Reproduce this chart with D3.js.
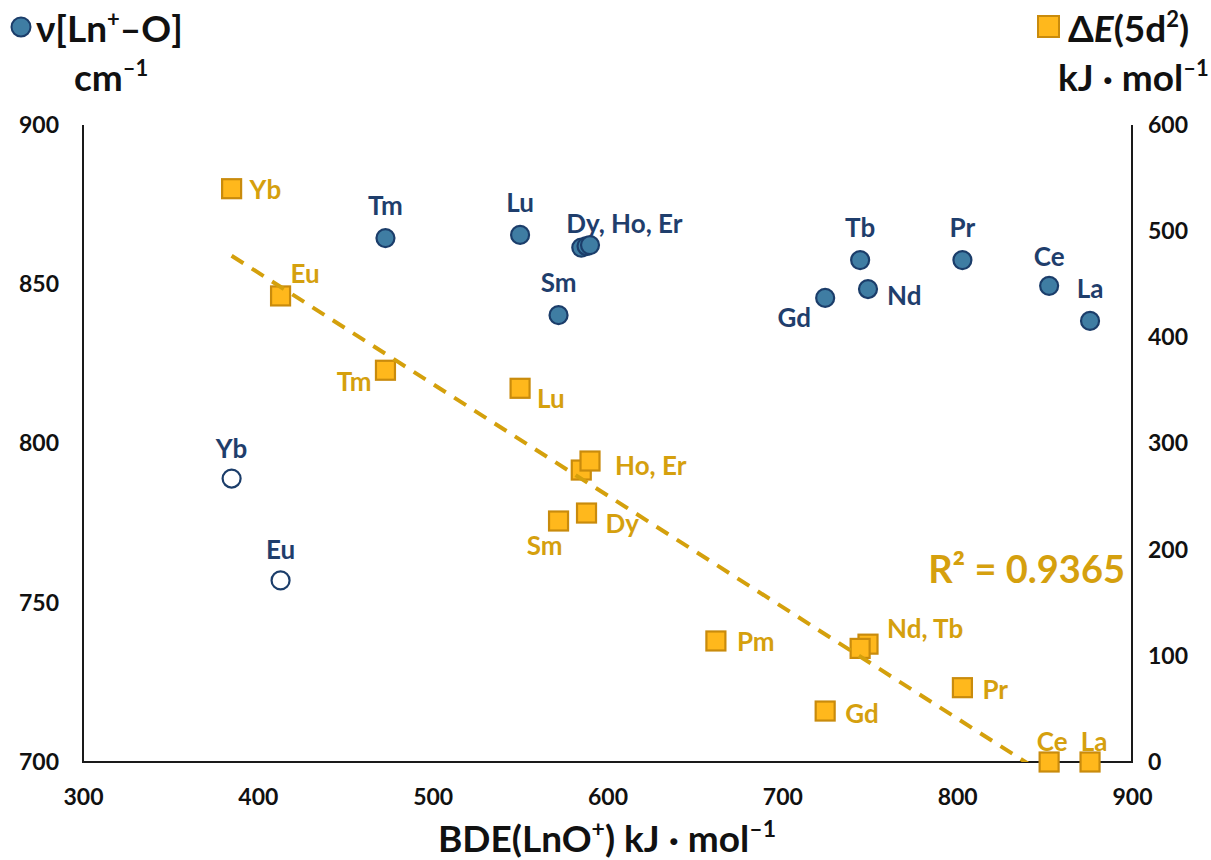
<!DOCTYPE html>
<html><head><meta charset="utf-8">
<script src="https://cdn.jsdelivr.net/npm/d3@7"></script>
<style>body{margin:0;background:#fff}text{font-family:Lato,"Open Sans",sans-serif;font-weight:700}</style>
</head><body><svg id="c" width="1211" height="860"></svg>
<script>
// ---- data ----
const xTicks = [300,400,500,600,700,800,900];
const yLeftTicks = [700,750,800,850,900];
const yRightTicks = [0,100,200,300,400,500,600];

// series 1: nu[Ln+-O] (cm-1), circles
const nuElements = ["Yb","Eu","Tm","Lu","Sm","Dy","Ho","Er","Gd","Tb","Nd","Pr","Ce","La"];
const nuBDE      = [385,413,473,550,572,585,588,590,724.5,744.5,749,803,852.6,876];
const nuValues   = [789,757,864.5,865.5,840.3,861.5,862,862.3,845.7,857.6,848.5,857.6,849.5,838.5];
const nuOpen     = [true,true,false,false,false,false,false,false,false,false,false,false,false,false];
const nuLabels   = ["Yb","Eu","Tm","Lu","Sm","Dy, Ho, Er","Gd","Tb","Nd","Pr","Ce","La"];
const nuLabelAt  = ["Yb","Eu","Tm","Lu","Sm","Dy","Gd","Tb","Nd","Pr","Ce","La"];

// series 2: dE(5d2) (kJ/mol), squares
const dEElements = ["Yb","Eu","Tm","Lu","Sm","Dy","Ho","Er","Pm","Gd","Nd","Tb","Pr","Ce","La"];
const dEBDE      = [385,413,473,550,572,588,585,590,662,724.5,749,744.5,803,852.6,876];
const dEValues   = [540,439,369,352,227,234.5,275,283.5,114,48,111,107,70,0,0];
const dELabels   = ["Yb","Eu","Tm","Lu","Sm","Dy","Ho, Er","Pm","Gd","Nd, Tb","Pr","Ce","La"];
const dELabelAt  = ["Yb","Eu","Tm","Lu","Sm","Dy","Er","Pm","Gd","Nd","Pr","Ce","La"];
const r2Text = "R² = 0.9365";

// ---- label placement (layout, not data) ----
const nuLabelOffsets = {Yb:[0,-30,"middle"],Eu:[0,-31,"middle"],Tm:[0,-32,"middle"],Lu:[0,-32,"middle"],
  Sm:[0,-32,"middle"],Dy:[-15,-24,"start"],Gd:[-31,20,"middle"],Tb:[0,-32,"middle"],Nd:[19,7,"start"],
  Pr:[0,-32,"middle"],Ce:[0,-29,"middle"],La:[0,-32,"middle"]};
const dELabelOffsets = {Yb:[18,1,"start"],Eu:[10,-22,"start"],Tm:[-14,12,"end"],Lu:[17,11,"start"],
  Sm:[-14,25,"middle"],Dy:[19,11,"start"],Er:[25,5,"start"],Pm:[21,1,"start"],Gd:[20,3,"start"],
  Nd:[19,-15,"start"],Pr:[20,2,"start"],Ce:[3,-20,"middle"],La:[4,-20,"middle"]};

const BLUE_FILL="#3F7DA3", BLUE_STROKE="#1B3D6A", BLUE_TEXT="#1F3E6C";
const GOLD_FILL="#FFB81C", GOLD_STROKE="#C98B0C", GOLD_TEXT="#D5A00E", GOLD_LINE="#D4A00C";

const svg = d3.select("#c");
const L=83, R=1132, T=125, B=762;
const x = d3.scaleLinear().domain([300,900]).range([L,R]);
const yL = d3.scaleLinear().domain([700,900]).range([B,T]);
const yR = d3.scaleLinear().domain([0,600]).range([B,T]);

// axes
const axB = d3.axisBottom(x).tickValues(xTicks).tickSize(0).tickPadding(27);
const axL = d3.axisLeft(yL).tickValues(yLeftTicks).tickSize(0).tickPadding(24);
const axR = d3.axisRight(yR).tickValues(yRightTicks).tickSize(0).tickPadding(16);
function style(g){
  g.selectAll("text").attr("font-size",23).attr("fill","#111").attr("font-family","Lato, sans-serif").attr("font-weight",700); }
svg.append("g").attr("transform",`translate(0,${B})`).call(axB).call(style);
svg.append("g").attr("transform",`translate(${L},0)`).call(axL).call(style);
svg.append("g").attr("transform",`translate(${R},0)`).call(axR).call(style);
svg.selectAll(".domain").remove();
// axis lines
svg.append("path").attr("d",`M${L},${T}V${B}H${R}V${T}`).attr("fill","none").attr("stroke","#1a1a1a").attr("stroke-width",2);

svg.append("clipPath").attr("id","plot").append("rect").attr("x",L).attr("y",T).attr("width",R-L).attr("height",B-T);

// circles
const nuData = nuElements.map((e,i)=>({e,x:nuBDE[i],y:nuValues[i],open:nuOpen[i]}));
svg.append("g").selectAll("circle").data(nuData).join("circle")
  .attr("cx",d=>x(d.x)).attr("cy",d=>yL(d.y)).attr("r",9)
  .attr("fill",d=>d.open?"#fff":BLUE_FILL).attr("stroke",BLUE_STROKE).attr("stroke-width",2.2);
svg.append("g").selectAll("text").data(nuLabels).join("text")
  .each(function(t,i){ const el=nuLabelAt[i]; const d=nuData.find(p=>p.e===el); const o=nuLabelOffsets[el];
    d3.select(this).attr("x",x(d.x)+o[0]).attr("y",yL(d.y)+o[1]).attr("text-anchor",o[2]); })
  .attr("dy","0.35em").attr("font-size",26).attr("fill",BLUE_TEXT).text(t=>t);

// squares
const dEData = dEElements.map((e,i)=>({e,x:dEBDE[i],y:dEValues[i]}));
const s=19;
svg.append("g").selectAll("rect").data(dEData).join("rect")
  .attr("x",d=>x(d.x)-s/2).attr("y",d=>yR(d.y)-s/2).attr("width",s).attr("height",s)
  .attr("fill",GOLD_FILL).attr("stroke",GOLD_STROKE).attr("stroke-width",2.2);
svg.append("g").selectAll("text").data(dELabels).join("text")
  .each(function(t,i){ const el=dELabelAt[i]; const d=dEData.find(p=>p.e===el); const o=dELabelOffsets[el];
    d3.select(this).attr("x",x(d.x)+o[0]).attr("y",yR(d.y)+o[1]).attr("text-anchor",o[2]); })
  .attr("dy","0.35em").attr("font-size",26).attr("fill",GOLD_TEXT).text(t=>t);

// linear trendline (least squares on dE series)
const mx=d3.mean(dEBDE), my=d3.mean(dEValues);
const slope=d3.sum(dEBDE,(v,i)=>(v-mx)*(dEValues[i]-my))/d3.sum(dEBDE,v=>(v-mx)*(v-mx));
const icpt=my-slope*mx;
const x0=d3.min(dEBDE), x1=d3.max(dEBDE);
svg.append("line").attr("clip-path","url(#plot)")
  .attr("x1",x(x0)).attr("y1",yR(icpt+slope*x0)).attr("x2",x(x1)).attr("y2",yR(icpt+slope*x1))
  .attr("stroke",GOLD_LINE).attr("stroke-width",4).attr("stroke-dasharray","14,10");
svg.append("text").attr("x",1125).attr("y",583).attr("text-anchor","end").attr("font-size",38)
  .attr("fill",GOLD_TEXT).text(r2Text);

// titles
svg.append("circle").attr("cx",21).attr("cy",27).attr("r",9.5).attr("fill",BLUE_FILL).attr("stroke",BLUE_STROKE).attr("stroke-width",2);
const t1=svg.append("text").attr("x",36).attr("y",42).attr("font-size",37).attr("fill","#111");
t1.append("tspan").text("ν[Ln");
t1.append("tspan").attr("font-size",22).attr("dy",-15).text("+");
t1.append("tspan").attr("dy",15).text("–O]");
const t2=svg.append("text").attr("x",74).attr("y",91).attr("font-size",37).attr("fill","#111");
t2.append("tspan").text("cm");
t2.append("tspan").attr("font-size",22).attr("dy",-15).text("–1");

svg.append("rect").attr("x",1038).attr("y",16).attr("width",21).attr("height",21).attr("fill",GOLD_FILL).attr("stroke",GOLD_STROKE).attr("stroke-width",2);
const t3=svg.append("text").attr("x",1068).attr("y",42).attr("font-size",37).attr("fill","#111");
t3.append("tspan").text("Δ");
t3.append("tspan").attr("font-style","italic").text("E");
t3.append("tspan").text("(5d");
t3.append("tspan").attr("font-size",22).attr("dy",-15).text("2");
t3.append("tspan").attr("dy",15).text(")");
const t4=svg.append("text").attr("x",1058).attr("y",91).attr("font-size",37).attr("fill","#111");
t4.append("tspan").text("kJ · mol");
t4.append("tspan").attr("font-size",22).attr("dy",-15).text("–1");

const t5=svg.append("text").attr("x",607).attr("y",852).attr("text-anchor","middle").attr("font-size",37).attr("fill","#111");
t5.append("tspan").text("BDE(LnO");
t5.append("tspan").attr("font-size",23).attr("dy",-15).text("+");
t5.append("tspan").attr("dy",15).text(") kJ · mol");
t5.append("tspan").attr("font-size",23).attr("dy",-15).text("–1");
</script></body></html>
